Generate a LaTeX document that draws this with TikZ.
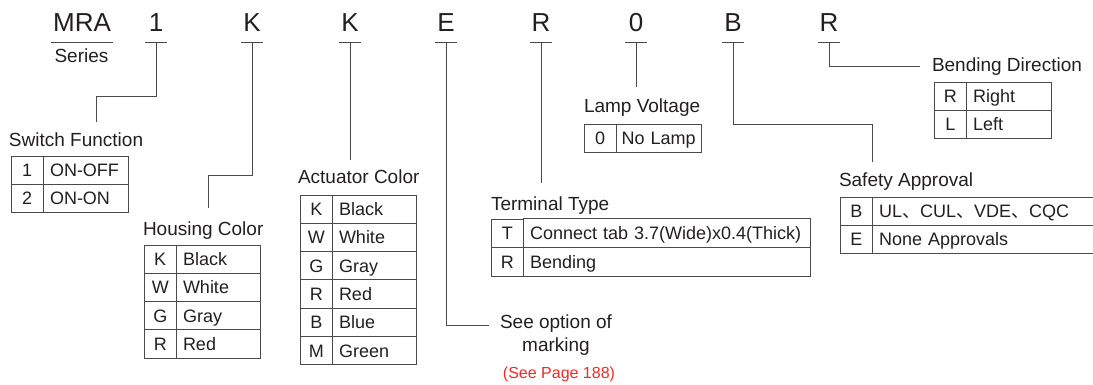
\documentclass[tikz,border=0pt]{standalone}
\usepackage{fontspec}
\setmainfont{Liberation Sans}
\newfontfamily\cjkfont{Noto Sans CJK SC}
\usetikzlibrary{positioning}
\definecolor{inkgray}{HTML}{231F20}
\definecolor{linegray}{HTML}{4A4A4A}
\definecolor{pagered}{HTML}{EE2A2A}
\newcommand{\jc}{{\cjkfont 、}}

\begin{document}
\begin{tikzpicture}[
    x=1pt, y=-1pt,
    every node/.style={text=inkgray, inner sep=0pt, outer sep=0pt},
    code/.style={font=\fontsize{26}{30}\selectfont, minimum width=22pt, text depth=10pt, anchor=south},
    title/.style={font=\fontsize{19}{23}\selectfont, anchor=base west},
    key/.style={draw=linegray, line width=0.9pt, font=\fontsize{18}{21}\selectfont, minimum width=32.5pt, minimum height=28.3pt, text height=13pt, text depth=0pt, anchor=north west},
    val/.style={draw=linegray, line width=0.9pt, font=\fontsize{18}{21}\selectfont, text width=#1, align=left, inner xsep=6.5pt, minimum height=28.3pt, text height=13pt, text depth=0pt},
    wire/.style={draw=linegray, line width=0.9pt}
]
    \useasboundingbox (0,0) rectangle (1093,385);

    % part number
    \node[code, minimum width=62pt] (mra) at (82,42) {MRA};
    \node[code] (c1) at (156,42) {1};
    \node[code] (ck1) at (252,42) {K};
    \node[code] (ck2) at (350,42) {K};
    \node[code] (ce) at (446,42) {E};
    \node[code] (cr1) at (541,42) {R};
    \node[code] (c0) at (636,42) {0};
    \node[code] (cb) at (733,42) {B};
    \node[code] (cr2) at (829,42) {R};
    \foreach \n in {mra,c1,ck1,ck2,ce,cr1,c0,cb,cr2}
        \draw[wire] (\n.south west) -- (\n.south east);
    \node[title, anchor=base] (series) at (81.5,63) {Series};

    % switch function
    \node[title] (swf) at (9,147) {Switch Function};
    \foreach \k/\v [count=\i from 0] in {1/ON-OFF, 2/ON-ON} {
        \node[key] (swf-k\i) at (11,156+28.3*\i) {\k};
        \node[val=72pt, right=0pt of swf-k\i] (swf-v\i) {\v};
    }

    % housing color
    \node[title] (hc) at (143,236) {Housing Color};
    \foreach \k/\v [count=\i from 0] in {K/Black, W/White, G/Gray, R/Red} {
        \node[key] (hc-k\i) at (144,245+28.3*\i) {\k};
        \node[val=71pt, right=0pt of hc-k\i] (hc-v\i) {\v};
    }

    % actuator color
    \node[title] (ac) at (298,184) {Actuator Color};
    \foreach \k/\v [count=\i from 0] in {K/Black, W/White, G/Gray, R/Red, B/Blue, M/Green} {
        \node[key] (ac-k\i) at (300,195+28.3*\i) {\k};
        \node[val=71pt, right=0pt of ac-k\i] (ac-v\i) {\v};
    }

    % marking
    \node[font=\fontsize{19}{23}\selectfont, align=center, anchor=north] (mark) at (556,315) {See option of\\marking};
    \node[font=\fontsize{16}{19}\selectfont, text=pagered, below=11pt of mark, xshift=3pt] (page) {(See Page 188)};

    % terminal type
    \node[title] (tt) at (491,211) {Terminal Type};
    \foreach \k/\v [count=\i from 0] in {T/Connect tab 3.7(Wide)x0.4(Thick), R/Bending} {
        \node[key] (tt-k\i) at (491,219+28.8*\i) {\k};
        \node[val=274pt, minimum height=28.8pt, right=0pt of tt-k\i] (tt-v\i) {\v};
    }

    % lamp voltage
    \node[title] (lv) at (584,113) {Lamp Voltage};
    \foreach \k/\v [count=\i from 0] in {0/No Lamp} {
        \node[key] (lv-k\i) at (584,124+28.3*\i) {\k};
        \node[val=75pt, inner xsep=5pt, right=0pt of lv-k\i] (lv-v\i) {\v};
    }

    % safety approval
    \node[title] (sa) at (839,186) {Safety Approval};
    \foreach \k/\v [count=\i from 0] in {B/{UL\jc CUL\jc VDE\jc CQC}, E/None Approvals} {
        \node[key] (sa-k\i) at (840,197+28.3*\i) {\k};
        \node[val=208pt, right=0pt of sa-k\i] (sa-v\i) {\v};
    }

    % bending direction
    \node[title] (bd) at (932,72) {Bending Direction};
    \foreach \k/\v [count=\i from 0] in {R/Right, L/Left} {
        \node[key] (bd-k\i) at (934,82+28.3*\i) {\k};
        \node[val=72pt, right=0pt of bd-k\i] (bd-v\i) {\v};
    }

    % leader lines
    \coordinate (swf-in) at (96,122);
    \coordinate (hc-in) at (208,208);
    \coordinate (ac-in) at (350,160);
    \coordinate (mark-in) at (489,325);
    \coordinate (tt-in) at (541,183);
    \coordinate (lv-in) at (636,87);
    \coordinate (sa-in) at (872,162);
    \coordinate (bd-in) at (920,66);
    \draw[wire] (c1.south) -- ++(0,54) -| (swf-in);
    \draw[wire] (ck1.south) -- ++(0,133) -| (hc-in);
    \draw[wire] (ck2.south) -- (ac-in);
    \draw[wire] (ce.south) |- (mark-in);
    \draw[wire] (cr1.south) -- (tt-in);
    \draw[wire] (c0.south) -- (lv-in);
    \draw[wire] (cb.south) -- ++(0,82) -| (sa-in);
    \draw[wire] (cr2.south) |- (bd-in);
\end{tikzpicture}
\end{document}
